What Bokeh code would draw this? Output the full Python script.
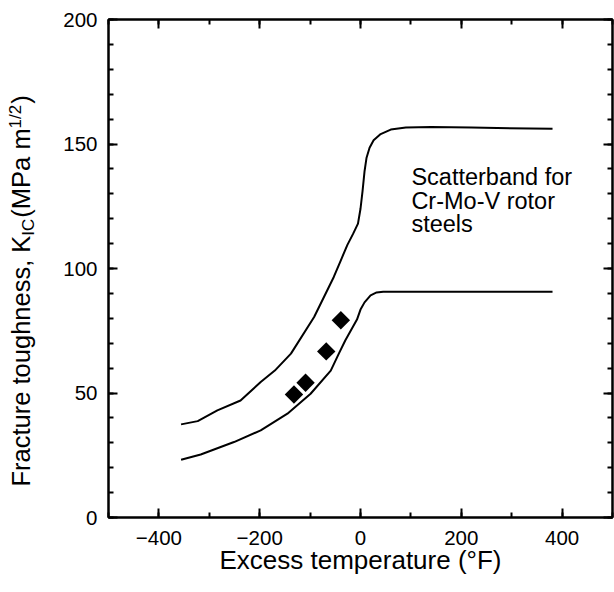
import math
from bokeh.plotting import figure
from bokeh.layouts import row
from bokeh.models import LinearAxis, SingleIntervalTicker, Label, Range1d, CustomJSTickFormatter
from bokeh.embed import file_html
from bokeh.resources import INLINE

# ---------------- data ----------------
upper_x = [-356, -323, -284, -238, -198, -170, -138, -92, -53, -39, -26, -15, -5, 0, 4, 8, 12, 18, 26, 40, 60, 90, 140, 220, 381]
upper_y = [37.4, 38.7, 43.0, 47.0, 54.4, 59.0, 65.8, 80.5, 96.6, 103.3, 109.5, 113.8, 118.0, 124.0, 131.0, 139.0, 144.5, 148.5, 151.5, 154.0, 155.8, 156.6, 156.8, 156.6, 156.1]

lower_x = [-356, -317, -251, -198, -145, -99, -59, -43, -30, -7, 0, 8, 20, 32, 45, 63, 200, 381]
lower_y = [23.2, 25.3, 30.3, 35.0, 41.7, 49.7, 59.0, 65.8, 71.2, 79.5, 83.5, 86.4, 89.2, 90.4, 90.7, 90.7, 90.7, 90.7]

point_x = [-132, -109, -68, -39]
point_y = [49.4, 54.1, 66.7, 79.2]

x_tick_interval = 200
y_tick_interval = 50

x_title = "Excess temperature (°F)"
note_lines = ["Scatterband for", "Cr-Mo-V rotor", "steels"]
note_x = 101
note_top_y = [141.9, 132.5, 123.2]   # top of each text line, in data units

FONT = "Liberation Sans"
ASC = 0.905   # font ascent (em)

# Arial / Liberation Sans advance widths (per 1000 em)
W = {' ': 278, '(': 333, ')': 333, ',': 278, '-': 333, '/': 278, '1': 556, '2': 556,
     'E': 667, 'F': 611, 'K': 667, 'I': 278, 'C': 722, 'M': 833, 'P': 667,
     'a': 556, 'c': 500, 'e': 556, 'g': 556, 'h': 556, 'm': 833, 'n': 556, 'o': 556,
     'p': 556, 'r': 333, 's': 500, 't': 278, 'u': 556, 'x': 500}


def tw(s, size):
    return sum(W.get(ch, 556) for ch in s) / 1000.0 * size


TOTAL_H = 592
B_TOP, B_BOTTOM = 19, 75

# ---------------- main plot ----------------
MAIN_W = 574
p = figure(width=MAIN_W, height=TOTAL_H, x_range=Range1d(-500, 500), y_range=Range1d(0, 200),
           output_backend="svg", toolbar_location=None,
           min_border_left=68, min_border_right=2, min_border_top=B_TOP, min_border_bottom=B_BOTTOM)
p.xgrid.visible = False
p.ygrid.visible = False
p.outline_line_color = "black"
p.outline_line_width = 2
p.background_fill_color = "white"
p.border_fill_color = "white"

xticker = SingleIntervalTicker(interval=x_tick_interval, num_minor_ticks=2)
yticker = SingleIntervalTicker(interval=y_tick_interval, num_minor_ticks=5)


def style(ax, labels=True):
    ax.axis_line_width = 2
    ax.axis_line_color = "black"
    ax.major_tick_in = 9
    ax.major_tick_out = 0
    ax.minor_tick_in = 5
    ax.minor_tick_out = 0
    ax.major_tick_line_width = 2
    ax.minor_tick_line_width = 2
    ax.major_tick_line_color = "black"
    ax.minor_tick_line_color = "black"
    ax.major_label_text_font = FONT
    ax.major_label_text_font_size = "20.5px"
    ax.major_label_text_color = "black"
    ax.axis_label = None
    if not labels:
        ax.formatter = CustomJSTickFormatter(code="return ''")
        ax.major_label_text_font_size = "0px"
        ax.major_label_standoff = 0


p.xaxis.ticker = xticker
p.yaxis.ticker = yticker
style(p.xaxis[0])
style(p.yaxis[0])
p.xaxis[0].major_label_standoff = 13
p.yaxis[0].major_label_standoff = 11
p.xaxis[0].axis_label = x_title
p.xaxis[0].axis_label_text_font = FONT
p.xaxis[0].axis_label_text_font_size = "26px"
p.xaxis[0].axis_label_text_font_style = "normal"
p.xaxis[0].axis_label_text_color = "black"
p.xaxis[0].axis_label_standoff = -3

top = LinearAxis(ticker=xticker)
style(top, labels=False)
p.add_layout(top, "above")
right = LinearAxis(ticker=yticker)
style(right, labels=False)
p.add_layout(right, "right")

p.line(upper_x, upper_y, line_width=2, line_color="black")
p.line(lower_x, lower_y, line_width=2, line_color="black")
p.scatter(point_x, point_y, marker="square", angle=math.pi / 4, size=13,
          fill_color="black", line_color=None)

for txt, yy in zip(note_lines, note_top_y):
    p.add_layout(Label(x=note_x, y=yy, text=txt, text_font=FONT, text_font_size="23.5px",
                       text_color="black", text_baseline="top", text_align="left"))

# ---------------- y title strip (data coords == page pixels) ----------------
YW = 40
yfig = figure(width=YW, height=TOTAL_H, x_range=Range1d(0, YW),
              y_range=Range1d(TOTAL_H - B_BOTTOM, B_TOP),
              output_backend="svg", toolbar_location=None,
              min_border_left=0, min_border_right=0, min_border_top=B_TOP, min_border_bottom=B_BOTTOM,
              x_axis_location=None, y_axis_location=None)
yfig.grid.visible = False
yfig.outline_line_color = None
yfig.background_fill_color = "white"
yfig.border_fill_color = "white"

YS, YSUB = 25.5, 17
y_base = 29.5          # baseline of the main text (page x)
pos = 486              # start of the text (page y), text reads upward
for txt, size, shift in [("Fracture toughness, K", YS, 0), ("IC", YSUB, 4), ("(MPa m", YS, 0),
                         ("1/2", YSUB, -9), (")", YS, 0)]:
    yfig.add_layout(Label(x=y_base + shift - ASC * size, y=pos, text=txt, angle=math.pi / 2,
                          text_font=FONT, text_font_size=f"{size}px", text_color="black",
                          text_baseline="top", text_align="left"))
    pos -= tw(txt, size) + (1 if size != YS else 0)

layout = row(yfig, p, spacing=0)
open("out.html", "w").write(file_html(layout, INLINE))
